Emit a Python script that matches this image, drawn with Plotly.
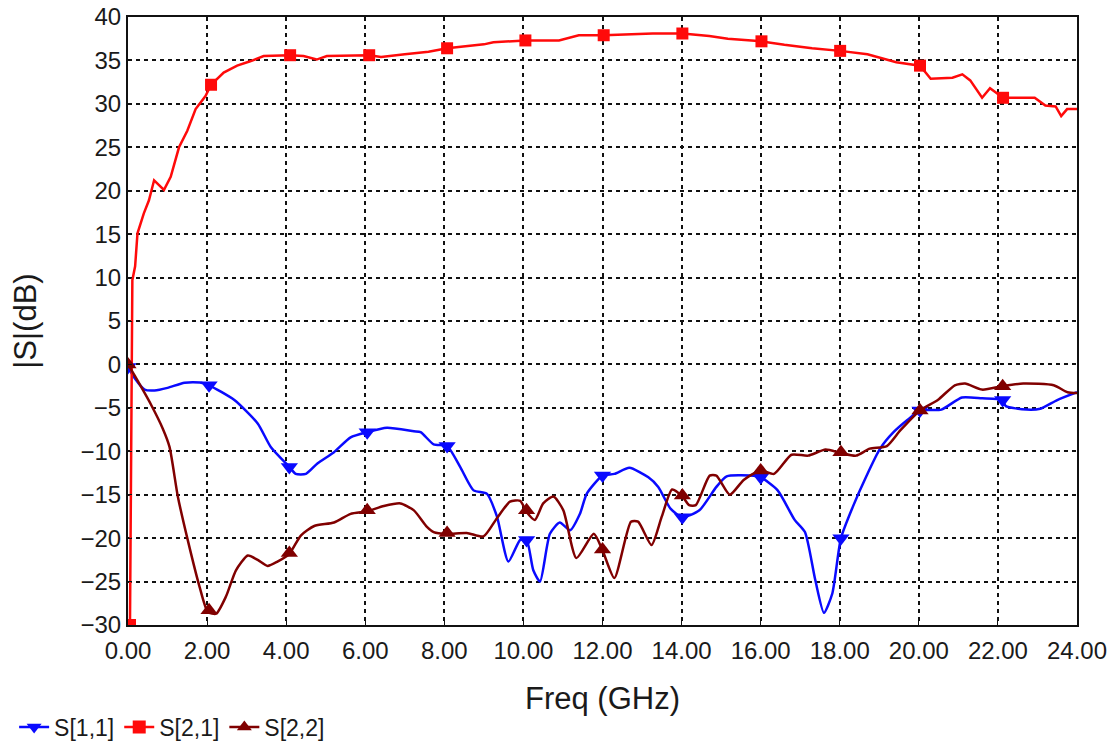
import plotly.graph_objects as go

# ---------------- data ----------------
s11_x = [0, 0.17, 0.42, 0.67, 1.0, 1.43, 1.85, 2.05, 2.69, 3.28, 3.61, 4.08, 4.24, 4.5, 4.79, 5.21,
         5.63, 6.05, 6.55, 7.23, 7.4, 7.73, 8.07, 8.4, 8.74, 9.08, 9.33, 9.62, 9.92, 10.08, 10.25,
         10.42, 10.67, 10.92, 11.18, 11.43, 11.6, 12.0, 12.3, 12.68, 13.16, 13.41, 13.72, 14.02,
         14.45, 14.88, 15.14, 15.74, 16.0, 16.43, 16.86, 17.12, 17.38, 17.6, 17.81, 18.03, 18.33,
         18.67, 19.02, 19.36, 19.71, 20.03, 20.57, 21.09, 21.6, 22.12, 22.2, 22.72, 23.07, 23.5, 24.0]
s11_y = [-0.3, -1.6, -2.9, -3.0, -2.7, -2.1, -2.1, -2.4, -4.1, -6.8, -9.5, -11.8, -12.6, -12.6, -11.4,
         -10.1, -8.4, -7.8, -7.3, -7.7, -7.8, -9.2, -9.4, -11.8, -14.5, -14.9, -17.5, -22.7, -20.2,
         -20.2, -23.7, -25.0, -19.5, -18.2, -19.1, -17.2, -14.9, -12.8, -12.6, -11.9, -13.0, -14.1,
         -16.6, -17.6, -16.8, -14.1, -12.9, -12.8, -13.0, -14.5, -17.9, -19.3, -24.8, -28.6, -26.4,
         -20.0, -16.4, -12.9, -9.7, -7.8, -6.4, -5.3, -5.2, -3.8, -3.9, -4.1, -4.8, -5.2, -5.1, -4.1, -3.2]

s21_x = [0.05, 0.08, 0.11, 0.11, 0.18, 0.24, 0.4, 0.53, 0.66, 0.91, 1.08, 1.29, 1.5, 1.71, 1.96,
         2.1, 2.42, 2.76, 3.09, 3.43, 4.1, 4.44, 4.77, 5.03, 6.1, 6.4, 7.0, 7.6, 8.07, 9.0, 9.24,
         10.05, 10.9, 11.4, 12.03, 13.27, 14.02, 14.7, 15.17, 16.02, 16.6, 17.3, 18.01, 18.7, 19.43,
         20.03, 20.3, 20.85, 21.1, 21.3, 21.6, 21.8, 22.13, 22.93, 23.2, 23.46, 23.6, 23.75, 24.0]
s21_y = [-30.0, -10.0, 5.2, 9.7, 11.3, 15.1, 17.4, 18.9, 21.2, 20.1, 21.6, 25.0, 26.9, 29.4, 30.9,
         32.2, 33.6, 34.4, 34.9, 35.5, 35.6, 35.5, 35.1, 35.5, 35.6, 35.4, 35.7, 36.0, 36.4, 36.85,
         37.1, 37.3, 37.3, 37.9, 37.9, 38.1, 38.1, 37.8, 37.5, 37.2, 36.8, 36.4, 36.1, 35.7, 34.8,
         34.4, 32.9, 33.0, 33.4, 32.7, 30.7, 31.8, 30.7, 30.7, 29.8, 29.7, 28.6, 29.4, 29.4]

s22_x = [0, 0.17, 0.59, 0.88, 1.05, 1.26, 1.51, 1.81, 2.02, 2.23, 2.48, 2.73, 3.03, 3.28, 3.53, 3.78,
         4.08, 4.37, 4.71, 5.21, 5.63, 6.05, 6.47, 6.89, 7.23, 7.56, 7.73, 8.07, 8.57, 8.99, 9.33,
         9.66, 9.92, 10.08, 10.29, 10.5, 10.76, 11.01, 11.34, 11.78, 12.0, 12.3, 12.72, 12.9, 13.24,
         13.5, 13.76, 14.02, 14.19, 14.36, 14.71, 14.88, 15.22, 15.57, 16.0, 16.34, 16.78, 17.2,
         17.64, 18.03, 18.41, 18.76, 19.19, 19.53, 20.03, 20.48, 20.91, 21.17, 21.6, 22.12, 22.64,
         23.41, 23.76, 24.0]
s22_y = [0.0, -1.3, -4.7, -7.4, -9.5, -15.2, -20.2, -25.6, -28.5, -28.7, -26.7, -23.7, -22.0, -22.5,
         -23.2, -22.7, -21.8, -19.7, -18.6, -18.2, -17.2, -16.9, -16.3, -16.0, -16.8, -18.7, -19.3,
         -19.5, -19.4, -19.8, -17.7, -15.8, -15.7, -17.0, -17.9, -16.0, -15.2, -16.8, -22.3, -19.5,
         -21.4, -24.6, -18.1, -18.1, -20.8, -17.5, -14.4, -15.2, -16.2, -16.2, -12.8, -12.8, -15.0,
         -13.3, -12.2, -12.6, -10.4, -10.5, -9.8, -10.2, -10.5, -9.7, -9.4, -7.6, -5.3, -4.1, -2.4,
         -2.2, -2.9, -2.5, -2.2, -2.4, -3.2, -3.3]

# marker positions (every ~2 GHz)
s11_mx = [0, 2.05, 4.08, 6.05, 8.07, 10.08, 12.0, 14.02, 16.0, 18.03, 20.03, 22.12]
s11_my = [-0.3, -2.4, -11.8, -7.8, -9.4, -20.2, -12.8, -17.6, -13.0, -20.0, -5.3, -4.1]
s21_mx = [0.05, 2.1, 4.1, 6.1, 8.07, 10.05, 12.03, 14.02, 16.02, 18.01, 20.03, 22.13]
s21_my = [-30.0, 32.2, 35.6, 35.6, 36.4, 37.3, 37.9, 38.1, 37.2, 36.1, 34.4, 30.7]
s22_mx = [0, 2.05, 4.08, 6.05, 8.07, 10.08, 12.0, 14.02, 16.0, 18.03, 20.03, 22.12]
s22_my = [0.0, -28.3, -21.7, -16.8, -19.4, -16.8, -21.3, -15.1, -12.2, -10.1, -5.3, -2.5]

series = [
    ("S[1,1]", s11_x, s11_y, s11_mx, s11_my, "#0a0aff", "triangle-down", 15, "spline"),
    ("S[2,1]", s21_x, s21_y, s21_mx, s21_my, "#ff0a0a", "square", 12, "linear"),
    ("S[2,2]", s22_x, s22_y, s22_mx, s22_my, "#800000", "triangle-up", 15, "spline"),
]

fig = go.Figure()
for name, x, y, mx, my, color, sym, msize, shape in series:
    fig.add_trace(go.Scatter(x=x, y=y, mode="lines",
                             line=dict(color=color, width=2.5, shape=shape, smoothing=0.6),
                             showlegend=False, hoverinfo="skip", legendgroup=name))
    fig.add_trace(go.Scatter(x=mx, y=my, mode="markers",
                             marker=dict(symbol=sym, color=color, size=msize),
                             showlegend=False, legendgroup=name, name=name))
    fig.add_trace(go.Scatter(x=[None], y=[None], mode="lines+markers", name=name,
                             line=dict(color=color, width=2.5),
                             marker=dict(symbol=sym, color=color, size=13),
                             legendgroup=name))

FONT = "Liberation Sans, Arial, sans-serif"
# page body has an 8px margin; keep the figure small enough to avoid scrollbars
fig.update_layout(
    width=1102, height=734,
    margin=dict(l=120, r=33, t=9, b=117, autoexpand=False),
    paper_bgcolor="white", plot_bgcolor="white",
    font=dict(family=FONT, size=24, color="#1a1a1a"),
    showlegend=True,
    legend=dict(orientation="h", x=-0.12, xanchor="left", y=-0.168, yanchor="middle",
                font=dict(size=23, family=FONT, color="#1a1a1a"),
                itemwidth=30, tracegroupgap=0, bgcolor="rgba(0,0,0,0)", itemclick=False),
    xaxis=dict(range=[0, 24], tick0=0, dtick=2, tickformat=".2f", automargin=False,
               showgrid=True, gridcolor="#111111", griddash="4px,4px", gridwidth=1.5,
               showline=True, linecolor="#111111", linewidth=2, mirror=True,
               ticks="inside", ticklen=4, tickcolor="#111111", zeroline=False,
               tickfont=dict(size=24), ticklabelstandoff=3, ticklabeloverflow="allow",
               title=dict(text="Freq (GHz)", font=dict(size=31, family=FONT, color="#1a1a1a"),
                          standoff=25)),
    yaxis=dict(range=[-30, 40], tick0=-30, dtick=5, automargin=False,
               showgrid=True, gridcolor="#111111", griddash="4px,4px", gridwidth=1.5,
               showline=True, linecolor="#111111", linewidth=2, mirror=True,
               ticks="inside", ticklen=4, tickcolor="#111111", zeroline=False,
               tickfont=dict(size=24), ticklabeloverflow="allow",
               title=dict(text="|S|(dB)", font=dict(size=31, family=FONT, color="#1a1a1a"),
                          standoff=42)),
)

fig.write_html("out.html")
